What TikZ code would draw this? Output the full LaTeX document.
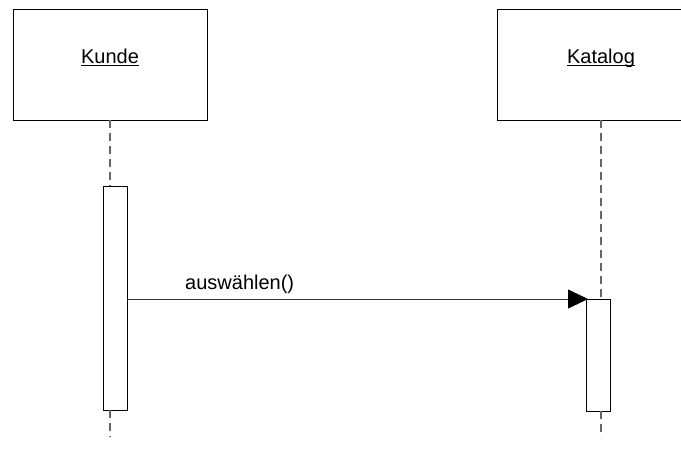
\documentclass[tikz,border=0pt]{standalone}
\usepackage{fontspec}
\setmainfont{Liberation Sans}
\usetikzlibrary{positioning, arrows.meta}

\begin{document}
\begin{tikzpicture}[
    x=1pt, y=-1pt,
    font=\fontsize{20}{24}\selectfont,
    obj/.style={draw, line width=0.8pt, minimum height=111pt, inner sep=0pt, outer sep=0pt},
    act/.style={draw, fill=white, line width=0.8pt, minimum width=24pt, inner sep=0pt, outer sep=0pt},
    life/.style={draw=black!60, line width=1.2pt, dash pattern=on 8pt off 5pt},
    arr/.style={-{Triangle[length=20pt, width=19pt, black]}, line width=0.8pt, draw=black!80}]
    \useasboundingbox (0,0) rectangle (681,470);
    \node[obj, minimum width=194pt] (kunde)   at (110,64.5) {\underline{\smash{Kunde}}};
    \node[obj, minimum width=208pt] (katalog) at (601,64.5) {\underline{\smash{Katalog}}};
    \node[act, minimum height=224pt] (kact) at (115,298.5) {};
    \node[act, minimum height=112pt] (cact) at (598,355) {};
    \coordinate (kend) at (110,437);
    \coordinate (cend) at (601,437);
    \draw[life] (kunde.south) -- (kunde.south |- kact.north);
    \draw[life] (kunde.south |- kact.south) -- (kend);
    \draw[life] (katalog.south) -- (katalog.south |- cact.north);
    \draw[life] (katalog.south |- cact.south) -- (cend);
    \node[anchor=base west, inner sep=0pt] (msg) at (185,290) {auswählen()};
    \draw[arr] (kact.east |- cact.north) -- ([xshift=2pt]cact.north west);
  \end{tikzpicture}
\end{document}
